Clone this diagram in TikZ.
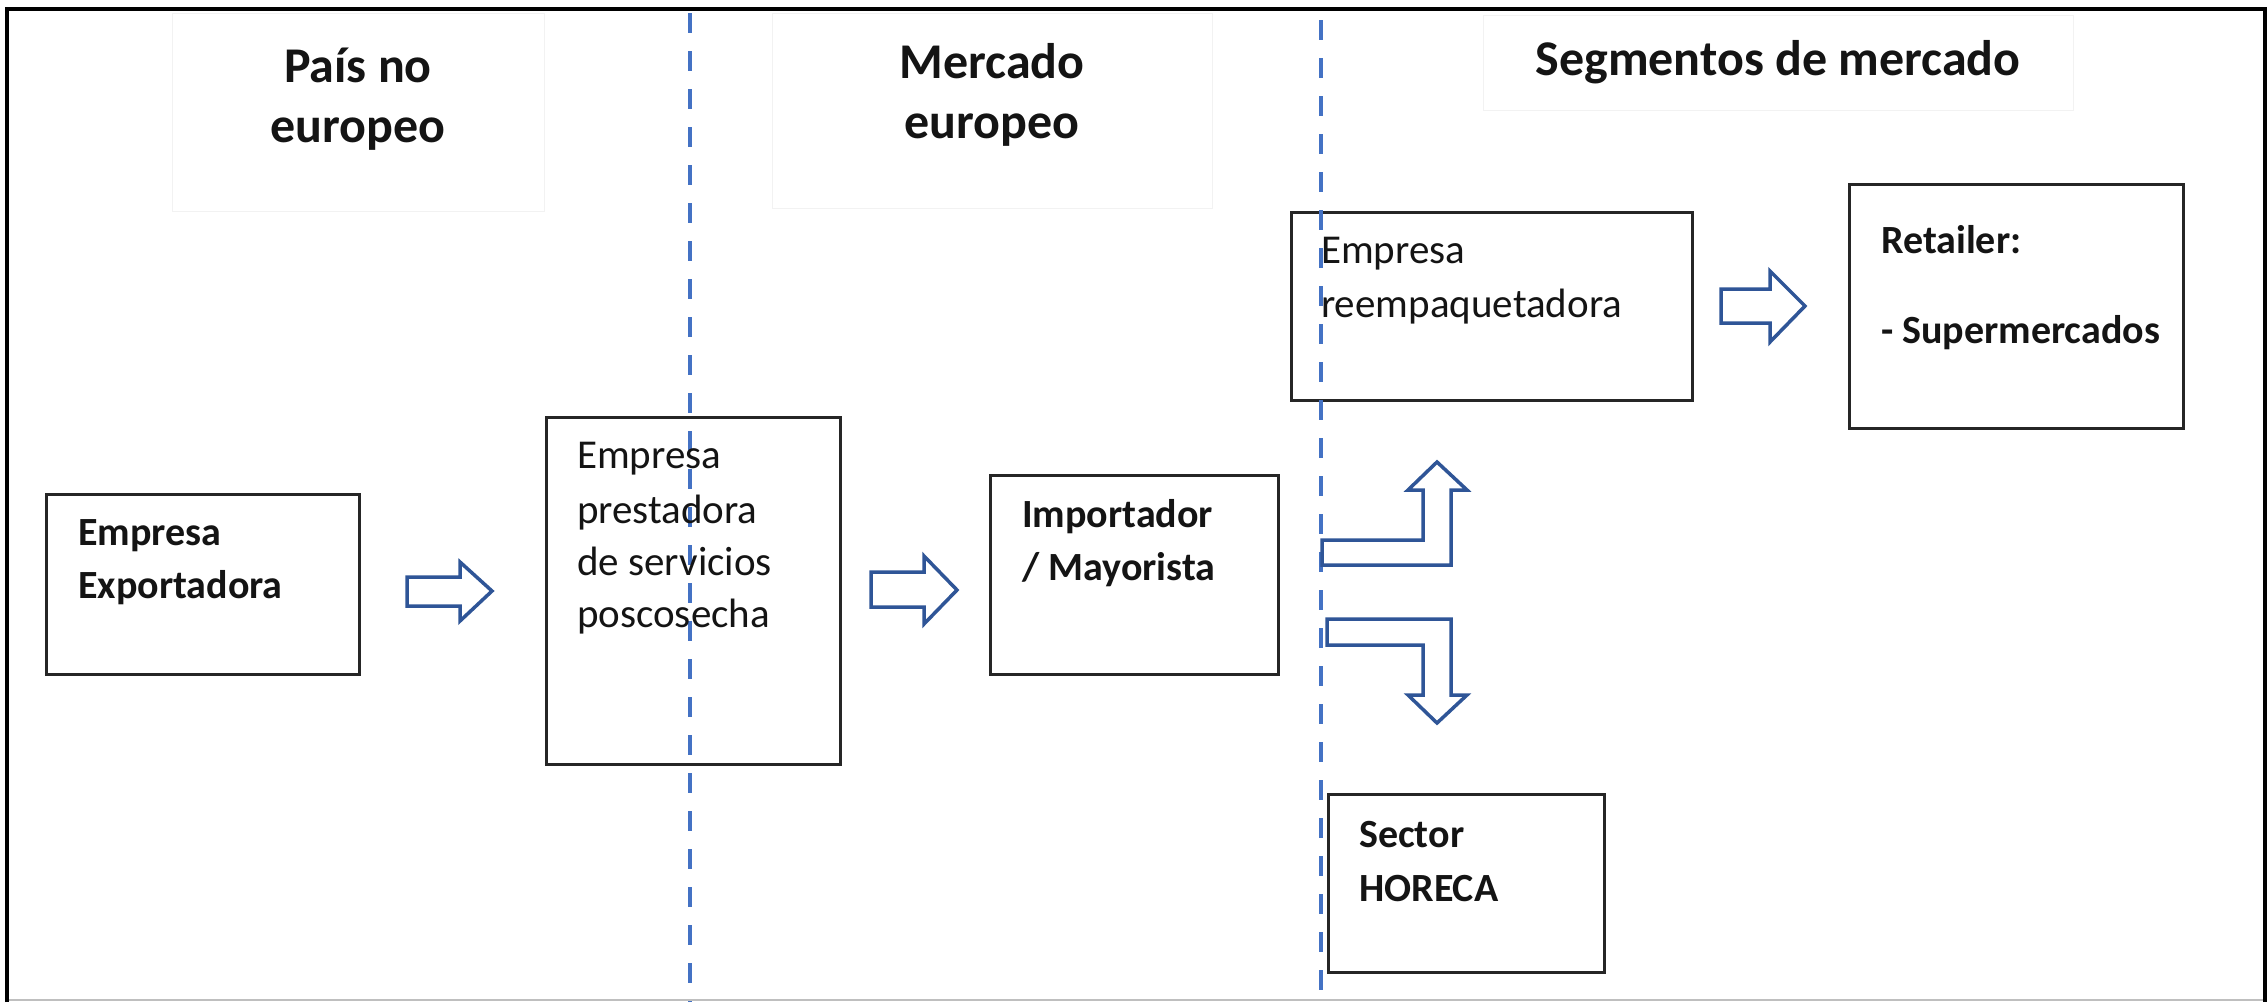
\documentclass[tikz,border=0pt]{standalone}
\usepackage{fontspec}
\setmainfont{Carlito}
\definecolor{arrowblue}{RGB}{47,85,151}
\definecolor{sepblue}{RGB}{68,114,196}
\definecolor{txt}{RGB}{20,20,20}
\begin{document}
\begin{tikzpicture}[x=1pt,y=-1pt,
  box/.style={draw=black!85, line width=3pt, inner sep=0pt, anchor=north west},
  hdrbox/.style={draw=black!5, line width=1pt},
  barrow/.style={draw=arrowblue, line width=3.5pt, fill=white, line join=miter},
  sepline/.style={draw=sepblue, line width=4.5pt, dash pattern=on 20pt off 18pt},
  reg/.style={font=\fontsize{41}{50}\selectfont, text=txt, inner sep=0pt, anchor=base west},
  bld/.style={font=\fontsize{40}{50}\selectfont\bfseries, text=txt, inner sep=0pt, anchor=base west},
  hd/.style={font=\fontsize{50}{60}\selectfont\bfseries, text=txt, inner sep=0pt, anchor=base},
]
\useasboundingbox (0,0) rectangle (2267,1002);
\fill[white] (0,0) rectangle (2267,1002);

% header text boxes (faint)
\draw[hdrbox] (172,13) rectangle (544,211);
\draw[hdrbox] (772,13) rectangle (1212,208);
\draw[hdrbox] (1483,15) rectangle (2073,110);

% boxes
\node[box, minimum width=313pt, minimum height=180pt] (exp) at (45,493) {};
\node[box, minimum width=294pt, minimum height=347pt] (pre) at (545,416) {};
\node[box, minimum width=288pt, minimum height=199pt] (imp) at (989,474) {};
\node[box, minimum width=401pt, minimum height=188pt] (reem) at (1290,211) {};
\node[box, minimum width=334pt, minimum height=244pt] (ret) at (1848,183) {};
\node[box, minimum width=276pt, minimum height=178pt] (hor) at (1327,793) {};

% separator lines
\coordinate (s1t) at (690,13);
\coordinate (s1b) at (690,1002);
\coordinate (s2t) at (1321,20);
\coordinate (s2b) at (1321,1002);
\draw[sepline] (s1t) -- (s1b);
\draw[sepline] (s2t) -- (s2b);

% block arrows
\draw[barrow] (407,577) -- (460,577) -- (460,562) -- (492,591) -- (460,621) -- (460,606) -- (407,606) -- cycle;
\draw[barrow] (871,572) -- (924,572) -- (924,556) -- (957,590) -- (924,624) -- (924,607) -- (871,607) -- cycle;
\draw[barrow] (1721,289) -- (1770,289) -- (1770,271) -- (1805,306) -- (1770,342) -- (1770,323) -- (1721,323) -- cycle;
\draw[barrow] (1322,540) -- (1423,540) -- (1423,490) -- (1408,490) -- (1437,462) -- (1467,490) -- (1451,490) -- (1451,565) -- (1322,565) -- cycle;
\draw[barrow] (1327,619) -- (1451,619) -- (1451,695) -- (1467,695) -- (1437,723) -- (1408,695) -- (1423,695) -- (1423,645) -- (1327,645) -- cycle;

% headers
\node[hd] (h1a) at (358,82) {País no};
\node[hd] (h1b) at (358,142) {europeo};
\node[hd] (h2a) at (992,78) {Mercado};
\node[hd] (h2b) at (992,138) {europeo};
\node[hd] (h3) at (1778,75) {Segmentos de mercado};

% box texts
\node[bld] (t1a) at (78,545) {Empresa};
\node[bld] (t1b) at (78,598) {Exportadora};
\node[reg] (t2a) at (577,468) {Empresa};
\node[reg] (t2b) at (577,523) {prestadora};
\node[reg] (t2c) at (577,575) {de servicios};
\node[reg] (t2d) at (577,627) {poscosecha};
\node[bld] (t3a) at (1022,527) {Importador};
\node[bld] (t3b) at (1022,580) {/ Mayorista};
\node[reg] (t4a) at (1321,263) {Empresa};
\node[reg] (t4b) at (1321,317) {reempaquetadora};
\node[bld] (t5a) at (1881,253) {Retailer:};
\node[bld] (t5b) at (1881,343) {- Supermercados};
\node[bld] (t6a) at (1359,847) {Sector};
\node[bld] (t6b) at (1359,901) {HORECA};

% outer frame
\draw[line width=2pt, black!25] (7,1000) -- (2265,1000);
\draw[line width=4pt, black] (7,1002) -- (7,9) -- (2265,9) -- (2265,1002);
\end{tikzpicture}
\end{document}
